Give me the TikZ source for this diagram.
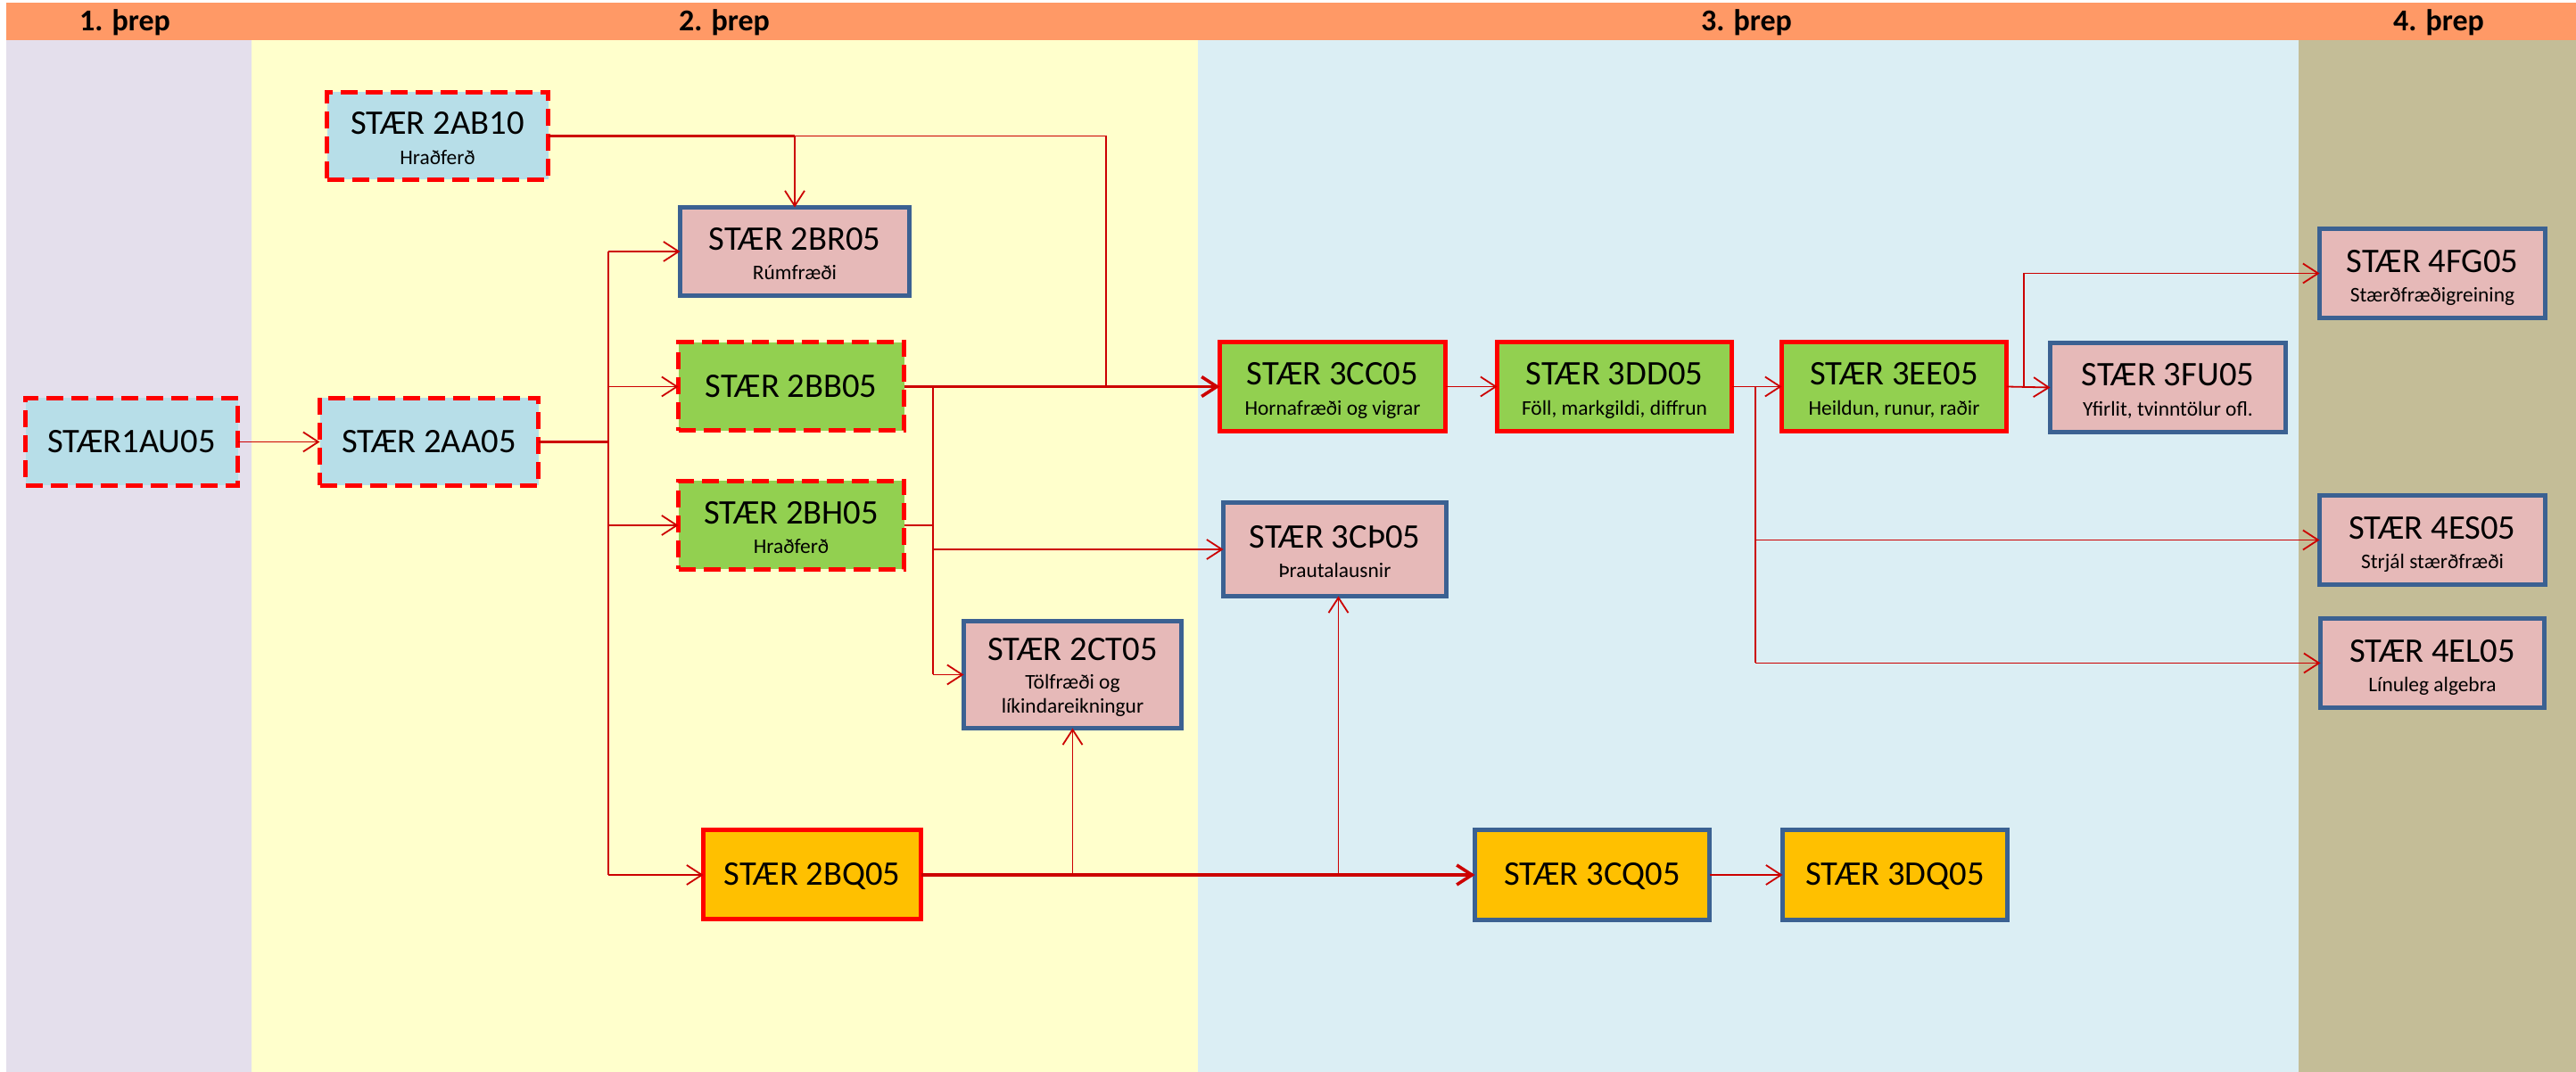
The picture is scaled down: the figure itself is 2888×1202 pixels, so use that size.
\documentclass[tikz,border=0pt]{standalone}
\usepackage{fontspec}
\setmainfont{Carlito}
\usetikzlibrary{arrows.meta,calc}
\definecolor{hdr}{HTML}{FF9966}
\definecolor{colA}{HTML}{E4DFEC}
\definecolor{colB}{HTML}{FFFFCC}
\definecolor{colC}{HTML}{DBEEF4}
\definecolor{colD}{HTML}{C4BD97}
\definecolor{nblue}{HTML}{B7DEE8}
\definecolor{ngreen}{HTML}{92D050}
\definecolor{npink}{HTML}{E6B9B8}
\definecolor{ngold}{HTML}{FFC000}
\definecolor{bblue}{HTML}{3B6192}
\definecolor{bred}{HTML}{FF0000}
\definecolor{lred}{RGB}{204,0,0}
\begin{document}
\begin{tikzpicture}[x=0.5pt,y=-0.5pt,
  hdrtext/.style={font=\bfseries\fontsize{17pt}{20pt}\selectfont, anchor=base},
  crs/.style={line width=2.5pt, inner sep=0pt, outer sep=0pt},
  sz/.style 2 args={minimum width={#1*0.5pt-2.5pt}, minimum height={#2*0.5pt-2.5pt}},
  dashedblue/.style={crs, fill=nblue, draw=bred, dash pattern=on 9.5pt off 4.5pt},
  dashedgreen/.style={crs, fill=ngreen, draw=bred, dash pattern=on 9.5pt off 4.5pt},
  redgreen/.style={crs, fill=ngreen, draw=bred},
  pinkbox/.style={crs, fill=npink, draw=bblue},
  goldred/.style={crs, fill=ngold, draw=bred},
  goldblue/.style={crs, fill=ngold, draw=bblue},
  ttl/.style={font=\fontsize{19.3pt}{23pt}\selectfont, anchor=base, inner sep=0pt},
  sub/.style={font=\fontsize{11.7pt}{14pt}\selectfont, anchor=base, inner sep=0pt},
  ln/.style={draw=lred, line width=0.9pt},
  thk/.style={draw=lred, line width=1.8pt},
  arr/.style={-{Straight Barb[length=8.5pt,width=11pt]}}
]
\useasboundingbox (0,0) rectangle (2888,1202);
% backgrounds
\fill[colA] (7,45) rectangle (282,1202);
\fill[colB] (282,45) rectangle (1343,1202);
\fill[colC] (1343,45) rectangle (2577,1202);
\fill[colD] (2577,45) rectangle (2888,1202);
\fill[hdr] (7,3) rectangle (2888,45);
\node[hdrtext] (h1) at (140,35) {1. þrep};
\node[hdrtext] (h2) at (812,35) {2. þrep};
\node[hdrtext] (h3) at (1958,35) {3. þrep};
\node[hdrtext] (h4) at (2734,35) {4. þrep};

% boxes
\node[dashedblue, sz={243}{103}] (au) at (147.5,495.5) {};
\node[ttl] (aut) at ($(au.center)+(0,12)$) {STÆR1AU05};
\node[dashedblue, sz={250}{103}] (aa) at (481,495.5) {};
\node[ttl] (aat) at ($(aa.center)+(0,12)$) {STÆR 2AA05};
\node[dashedblue, sz={253}{103}] (ab) at (490.5,152.5) {};
\node[ttl] (abt) at ($(ab.center)+(0,-1.5)$) {STÆR 2AB10};
\node[sub] (abs) at ($(ab.center)+(0,32)$) {Hraðferð};

\node[pinkbox, sz={262}{104}] (br) at (891,282) {};
\node[ttl] (brt) at ($(br.center)+(0,-1.5)$) {STÆR 2BR05};
\node[sub] (brs) at ($(br.center)+(0,32)$) {Rúmfræði};

\node[dashedgreen, sz={258}{104}] (bb) at (887,433.5) {};
\node[ttl] (bbt) at ($(bb.center)+(0,12)$) {STÆR 2BB05};
\node[dashedgreen, sz={258}{104}] (bh) at (887,589) {};
\node[ttl] (bht) at ($(bh.center)+(0,-1.5)$) {STÆR 2BH05};
\node[sub] (bhs) at ($(bh.center)+(0,32)$) {Hraðferð};

\node[pinkbox, sz={249}{125}] (ct) at (1202.5,756.5) {};
\node[ttl] (ctt) at ($(ct.center)+(0,-15.5)$) {STÆR 2CT05};
\node[sub] (cts1) at ($(ct.center)+(0,16.5)$) {Tölfræði og};
\node[sub] (cts2) at ($(ct.center)+(0,43.5)$) {líkindareikningur};

\node[goldred, sz={249}{105}] (bq) at (910.5,981) {};
\node[ttl] (bqt) at ($(bq.center)+(0,12)$) {STÆR 2BQ05};

\node[redgreen, sz={258}{105}] (cc) at (1494,433.5) {};
\node[ttl] (cct) at ($(cc.center)+(0,-1.5)$) {STÆR 3CC05};
\node[sub] (ccs) at ($(cc.center)+(0,32)$) {Hornafræði og vigrar};

\node[redgreen, sz={268}{105}] (dd) at (1810,433.5) {};
\node[ttl] (ddt) at ($(dd.center)+(0,-1.5)$) {STÆR 3DD05};
\node[sub] (dds) at ($(dd.center)+(0,32)$) {Föll, markgildi, diffrun};

\node[pinkbox, sz={255}{110}] (cth) at (1496.5,616) {};
\node[ttl] (ctht) at ($(cth.center)+(0,-1)$) {STÆR 3CÞ05};
\node[sub] (cths) at ($(cth.center)+(0,32)$) {Þrautalausnir};

\node[redgreen, sz={257}{105}] (ee) at (2123.5,433.5) {};
\node[ttl] (eet) at ($(ee.center)+(0,-1.5)$) {STÆR 3EE05};
\node[sub] (ees) at ($(ee.center)+(0,32)$) {Heildun, runur, raðir};

\node[pinkbox, sz={269}{105}] (fu) at (2430.5,434.5) {};
\node[ttl] (fut) at ($(fu.center)+(0,-1.5)$) {STÆR 3FU05};
\node[sub] (fus) at ($(fu.center)+(0,32)$) {Yfirlit, tvinntölur ofl.};

\node[pinkbox, sz={258}{105}] (fg) at (2727,306.5) {};
\node[ttl] (fgt) at ($(fg.center)+(0,-1)$) {STÆR 4FG05};
\node[sub] (fgs) at ($(fg.center)+(0,32)$) {Stærðfræðigreining};

\node[pinkbox, sz={258}{105}] (es) at (2727,605.5) {};
\node[ttl] (est) at ($(es.center)+(0,-1)$) {STÆR 4ES05};
\node[sub] (ess) at ($(es.center)+(0,32)$) {Strjál stærðfræði};

\node[pinkbox, sz={256}{105}] (el) at (2727,743.5) {};
\node[ttl] (elt) at ($(el.center)+(0,-1)$) {STÆR 4EL05};
\node[sub] (els) at ($(el.center)+(0,32)$) {Línuleg algebra};

\node[goldblue, sz={268}{106}] (cq) at (1785,981) {};
\node[ttl] (cqt) at ($(cq.center)+(0,12)$) {STÆR 3CQ05};
\node[goldblue, sz={257}{106}] (dq) at (2124.5,981) {};
\node[ttl] (dqt) at ($(dq.center)+(0,12)$) {STÆR 3DQ05};

% junction points
\coordinate (j1) at (682,495.5);
\coordinate (j3) at (1240,152.5);
\coordinate (bus) at (1046,433.5);
\coordinate (j4) at (1968,433.5);
\coordinate (j5) at (2269,433.5);

% connectors
\draw[ln,arr] (au.east) -- (aa.west);
\draw[thk] (aa.east) -- (j1);
\draw[ln] (j1 |- br.west) -- (j1 |- bq.west);
\draw[ln,arr] (j1 |- br.west) -- (br.west);
\draw[ln,arr] (j1 |- bb.west) -- (bb.west);
\draw[ln,arr] (j1 |- bh.west) -- (bh.west);
\draw[ln,arr] (j1 |- bq.west) -- (bq.west);

\draw[thk] (ab.east) -- (ab.east -| br.north);
\draw[ln,arr] (ab.east -| br.north) -- (br.north);
\draw[ln] (ab.east -| br.north) -- (j3) -- (j3 |- cc.west);

\draw[thk] (bb.east) -- (bus);
\draw[thk,arr] (bus) -- (cc.west);
\draw[ln] (bus) -- (bus |- ct.west);
\draw[ln] (bh.east) -- (bus |- bh.east);
\draw[ln,arr] (bus |- cth.west) -- (cth.west);
\draw[ln,arr] (bus |- ct.west) -- (ct.west);

\draw[thk,arr] (bq.east) -- (cq.west);
\draw[ln,arr] (ct.south |- bq.east) -- (ct.south);
\draw[ln,arr] ($(cth.south |- bq.east)+(4,0)$) -- ($(cth.south)+(4,0)$);
\draw[ln,arr] (cq.east) -- (dq.west);

\draw[ln,arr] (cc.east) -- (dd.west);
\draw[ln] (dd.east) -- (j4);
\draw[ln,arr] (j4) -- (ee.west);
\draw[ln] (j4) -- (j4 |- el.west);
\draw[ln,arr] (j4 |- es.west) -- (es.west);
\draw[ln,arr] (j4 |- el.west) -- (el.west);

\draw[ln,arr] (ee.east) -- (fu.west);
\draw[ln] (j5) -- (j5 |- fg.west);
\draw[ln,arr] (j5 |- fg.west) -- (fg.west);
\end{tikzpicture}
\end{document}
